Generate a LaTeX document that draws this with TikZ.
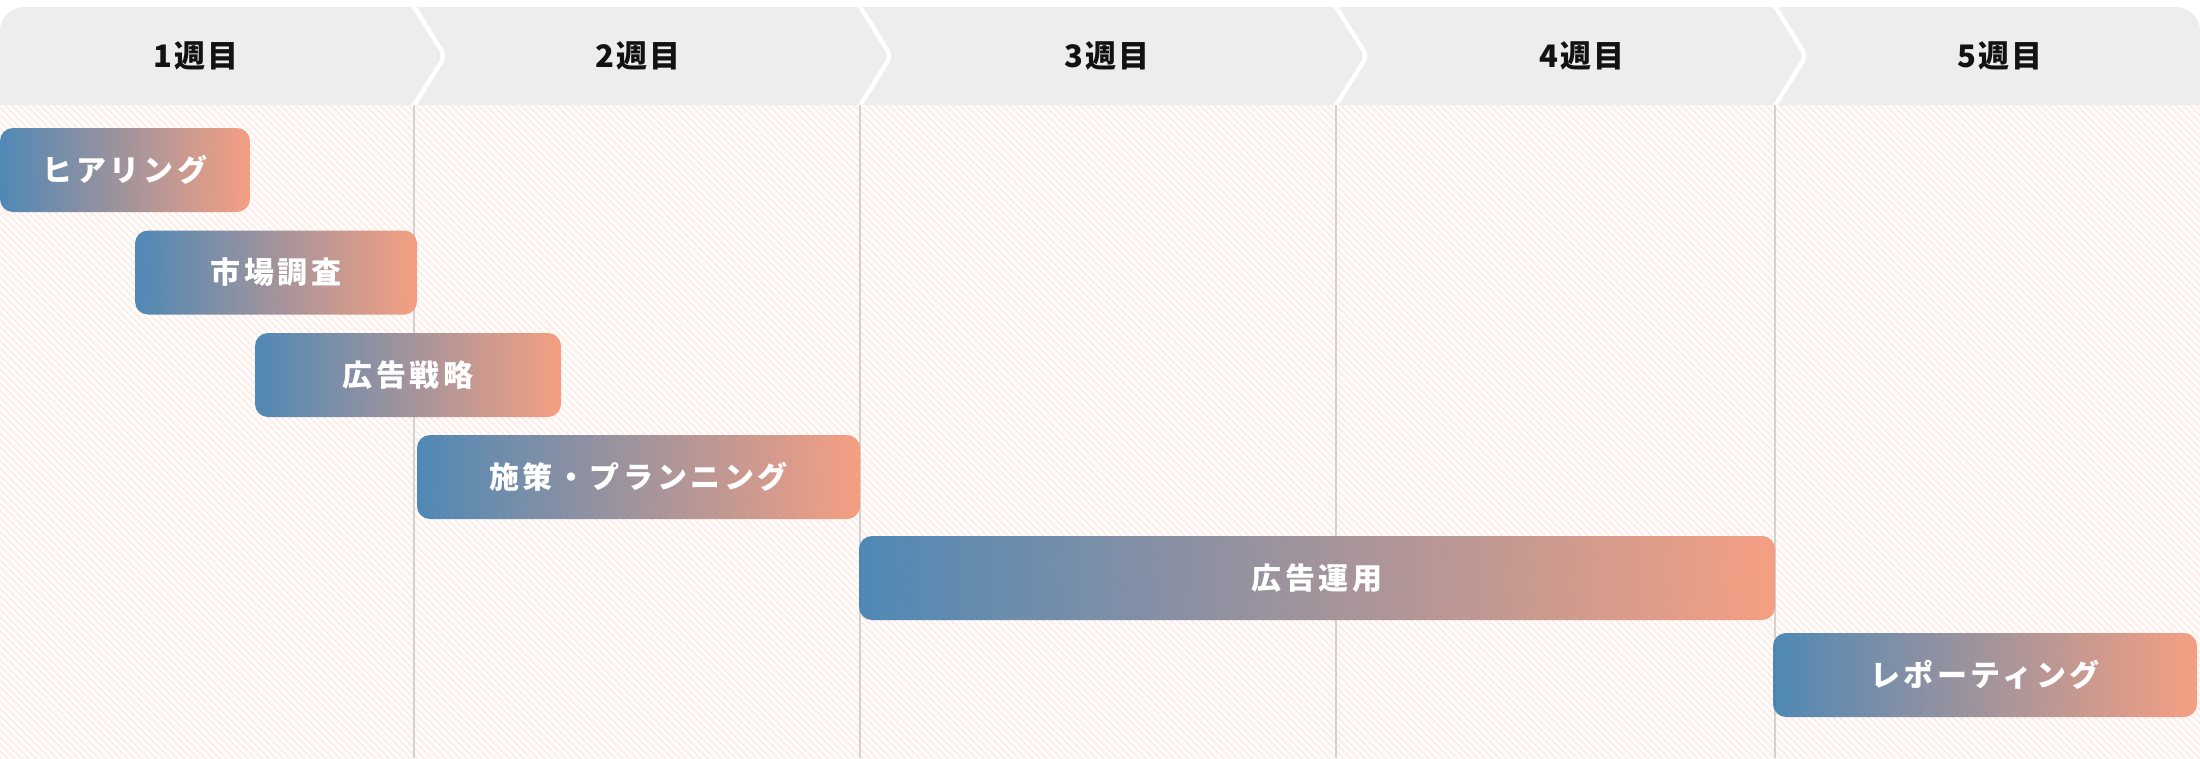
\documentclass[tikz,border=0pt]{standalone}
\usepackage{fontspec}
\usetikzlibrary{patterns.meta}
\newfontfamily\jphead{Noto Sans CJK JP}[LetterSpace=6]
\newfontfamily\jpbar{Noto Sans CJK JP}[LetterSpace=12]
\definecolor{headgray}{HTML}{EDEDED}
\definecolor{divgray}{HTML}{D2D2D2}
\definecolor{bgpink}{HTML}{FDEEE9}
\definecolor{barblue}{HTML}{4582B2}
\definecolor{barsalmon}{HTML}{F59A7B}
\tikzset{
  week/.style={inner sep=0pt,text=black!93,font=\jphead\bfseries\fontsize{31}{34}\selectfont},
  task/.style={rounded corners=13pt,minimum height=84pt,inner sep=0pt,
    left color=barblue,right color=barsalmon,fill opacity=0.94,text opacity=1,
    text=white,font=\jpbar\bfseries\fontsize{30}{32}\selectfont},
  divider/.style={divgray,line width=1.6pt}
}
\begin{document}
\begin{tikzpicture}[x=1pt,y=-1pt]
    \useasboundingbox (0,0) rectangle (2200,758);
    % background
    \fill[white] (0,105) rectangle (2200,758);
    \fill[pattern={Lines[angle=-45,distance=5pt,line width=2.4pt]},pattern color=bgpink]
          (0,105) rectangle (2200,758);

    % header
    \fill[headgray,rounded corners=24pt] (0,7) rectangle (2200,105);
    \fill[headgray] (0,60) rectangle (2200,105);
    \foreach \x in {414,860,1336,1775} {
      \draw[white,line width=4.5pt,rounded corners=7pt] (\x-1,5) -- (\x+31,56) -- (\x-1,107);
      \draw[divider] (\x,105) -- (\x,758);
    }

    \node[week] (week1) at (196,56) {1週目};
    \node[week] (week2) at (638,56) {2週目};
    \node[week] (week3) at (1107,56) {3週目};
    \node[week] (week4) at (1582,56) {4週目};
    \node[week] (week5) at (2000,56) {5週目};

    % tasks
    \node[task,minimum width=250pt] (hearing) at (125,170) {ヒアリング};
    \node[task,minimum width=282pt] (market) at (276,272.5) {市場調査};
    \node[task,minimum width=306pt] (strategy) at (408,375) {広告戦略};
    \node[task,minimum width=443pt] (planning) at (638.5,477) {施策・プランニング};
    \node[task,minimum width=916pt] (operation) at (1317,578) {広告運用};
    \node[task,minimum width=424pt] (report) at (1985,675) {レポーティング};
  \end{tikzpicture}
\end{document}
